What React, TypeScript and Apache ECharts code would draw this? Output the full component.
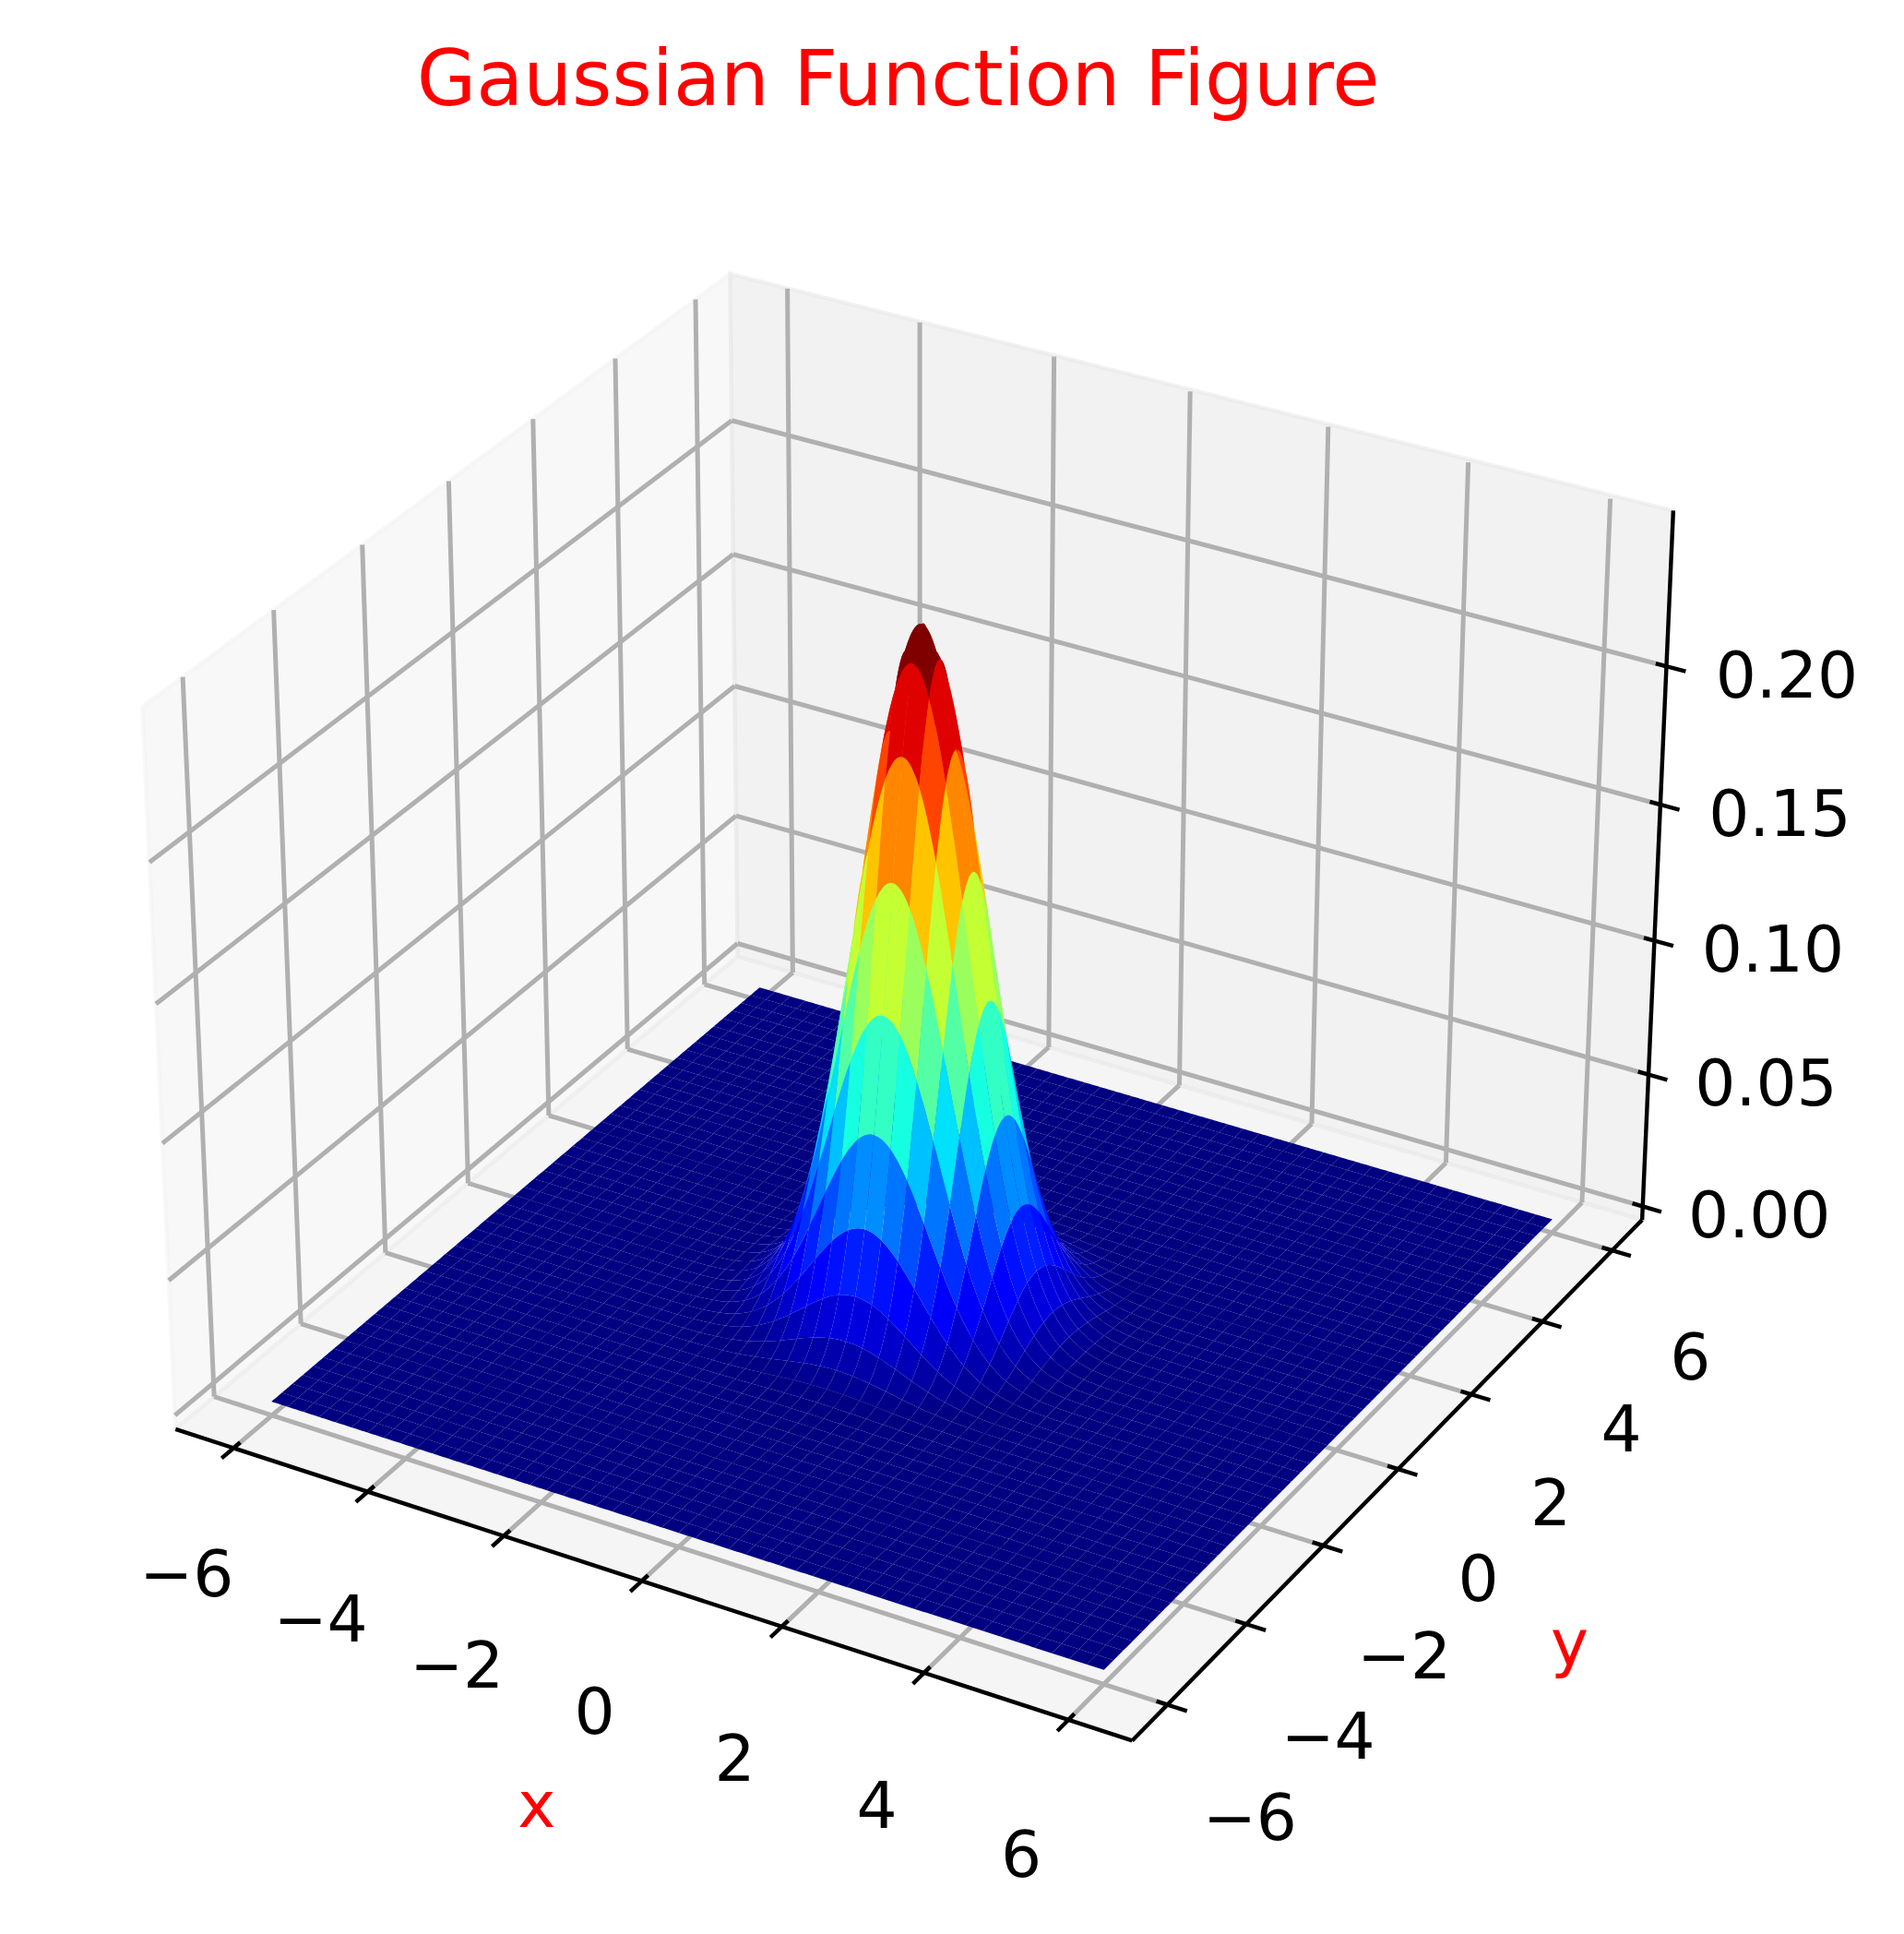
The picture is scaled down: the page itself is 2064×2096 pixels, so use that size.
import React, { useEffect, useRef } from "react";
import * as echarts from "echarts";

// Height read along the surface's profile through the peak, every 0.04 from the centre outwards.
const profileCentre = [0.24868, 0.24837, 0.24744, 0.2459, 0.24376, 0.24103, 0.23774, 0.23391, 0.22956, 0.22473, 0.21946, 0.21378, 0.20772, 0.20132, 0.19464, 0.18771, 0.18058, 0.17328, 0.16586, 0.15837];
const profileShoulder = [0.15083, 0.1433, 0.1358, 0.12837, 0.12105, 0.11385, 0.10682, 0.09997, 0.09333, 0.08691, 0.08073, 0.07481, 0.06914, 0.06375, 0.05863, 0.05378, 0.04921, 0.04492, 0.0409, 0.03715];
const profileSlope = [0.03366, 0.03041, 0.02742, 0.02465, 0.02211, 0.01978, 0.01766, 0.01572, 0.01396, 0.01236, 0.01093, 0.00963, 0.00847, 0.00743, 0.0065, 0.00567, 0.00493, 0.00428, 0.00371, 0.00321];
const profileFoot = [0.00276, 0.00238, 0.00204, 0.00174, 0.00149, 0.00127, 0.00107, 0.00091, 0.00077, 0.00065, 0.00054, 0.00046, 0.00038, 0.00032, 0.00026, 0.00022, 0.00018, 0.00015, 0.00012, 0.0001];
const profileTail = [0.00008, 0.00007, 0.00006, 0.00005, 0.00004, 0.00003, 0.00002, 0.00002, 0.00002, 0.00001, 0.00001];
const profile = [...profileCentre, ...profileShoulder, ...profileSlope, ...profileFoot, ...profileTail];

const cellEdges = [
  -6, -5.76, -5.52, -5.28, -5.04, -4.8, -4.56, -4.32, -4.08, -3.84, -3.6, -3.36, -3.12, -2.88, -2.64, -2.4, -2.16, -1.92, -1.68, -1.44, -1.2, -0.96, -0.72, -0.48, -0.24,
  0, 0.24, 0.48, 0.72, 0.96, 1.2, 1.44, 1.68, 1.92, 2.16, 2.4, 2.64, 2.88, 3.12, 3.36, 3.6, 3.84, 4.08, 4.32, 4.56, 4.8, 5.04, 5.28, 5.52, 5.76, 6,
];
const FINE_PER_CELL = 6;
const CENTRE_CELL = 25;

const xTicks = [-6, -4, -2, 0, 2, 4, 6];
const yTicks = [-6, -4, -2, 0, 2, 4, 6];
const zTicks = [0, 0.05, 0.1, 0.15, 0.2];
const xTickLabels = ["\u22126", "\u22124", "\u22122", "0", "2", "4", "6"];
const yTickLabels = ["\u22126", "\u22124", "\u22122", "0", "2", "4", "6"];
const zTickLabels = ["0.00", "0.05", "0.10", "0.15", "0.20"];

const jetR = [[0, 0], [0.35, 0], [0.66, 1], [0.89, 1], [1, 0.5]];
const jetG = [[0, 0], [0.125, 0], [0.375, 1], [0.64, 1], [0.91, 0], [1, 0]];
const jetB = [[0, 0.5], [0.11, 1], [0.34, 1], [0.65, 0], [1, 0]];

// Camera of the view: elevation 30, azimuth -60, distance 10; box half-sizes and pane limits.
const BOX_XY = 0.5714;
const BOX_Z = 0.4286;
const PANE_XY = 6.875;
const PANE_Z_LOW = -0.00518;
const PANE_Z_HIGH = 0.25386;
const AXIS_Z_TOP = 0.2553;
const SCALE_X = 10399;
const SCALE_Y = 10415;
const CX = 999.3;
const CY = 1055;
const U = [0.866025, 0.5, 0];
const V = [-0.25, 0.433013, 0.866025];
const W = [0.433013, -0.75, 0.5];
const FONT = "DejaVu Sans";
const TICK_FONT = 69.4;
const GRID = "#b0b0b0";
const GRID_LW = 5;
const AXIS_LW = 4.4;

function project(x: number, y: number, z: number) {
  const qx = (x / PANE_XY) * BOX_XY;
  const qy = (y / PANE_XY) * BOX_XY;
  const qz = -BOX_Z + ((z - PANE_Z_LOW) / (PANE_Z_HIGH - PANE_Z_LOW)) * 2 * BOX_Z;
  const d = 10 - (qx * W[0] + qy * W[1] + qz * W[2]);
  const a = (qx * U[0] + qy * U[1]) / d;
  const b = (qx * V[0] + qy * V[1] + qz * V[2]) / d;
  return { px: CX + SCALE_X * a, py: CY - SCALE_Y * b, inv: 1 / d };
}

// i and j count fine steps of 0.04 from the peak.
function heightAt(i: number, j: number) {
  const a = profile[Math.abs(i)];
  const b = profile[Math.abs(j)];
  if (a === undefined || b === undefined) return 0;
  return (a * b) / profile[0];
}

function lerpStops(stops: number[][], t: number) {
  for (let k = 1; k < stops.length; k++) {
    if (t <= stops[k][0]) {
      const [a, av] = stops[k - 1];
      const [b, bv] = stops[k];
      return av + ((t - a) / (b - a)) * (bv - av);
    }
  }
  return stops[stops.length - 1][1];
}

function jet(t: number) {
  const level = Math.min(255, Math.floor(Math.max(0, Math.min(1, t)) * 256)) / 255;
  const c = (s: number[][]) => Math.round(lerpStops(s, level) * 255);
  return `rgb(${c(jetR)},${c(jetG)},${c(jetB)})`;
}

type Tile = { pts: number[][]; mean: number; depth: number };

function buildTiles(): Tile[] {
  const tiles: Tile[] = [];
  const n = FINE_PER_CELL;
  for (let c = 0; c < cellEdges.length - 1; c++) {
    for (let r = 0; r < cellEdges.length - 1; r++) {
      const i0 = (c - CENTRE_CELL) * n;
      const j0 = (r - CENTRE_CELL) * n;
      const perimeter: number[][] = [];
      for (let s = 0; s < n; s++) perimeter.push([i0 + s, j0]);
      for (let s = 0; s < n; s++) perimeter.push([i0 + n, j0 + s]);
      for (let s = 0; s < n; s++) perimeter.push([i0 + n - s, j0 + n]);
      for (let s = 0; s < n; s++) perimeter.push([i0, j0 + n - s]);
      let sumZ = 0;
      let sumD = 0;
      const pts = perimeter.map(([i, j]) => {
        const z = heightAt(i, j);
        const p = project(cellEdges[c] + ((i - i0) / n) * (cellEdges[c + 1] - cellEdges[c]), cellEdges[r] + ((j - j0) / n) * (cellEdges[r + 1] - cellEdges[r]), z);
        sumZ += z;
        sumD += p.inv;
        return [p.px, p.py];
      });
      tiles.push({ pts, mean: sumZ / perimeter.length, depth: sumD / perimeter.length });
    }
  }
  return tiles.sort((a, b) => a.depth - b.depth);
}

function line(a: { px: number; py: number }, b: { px: number; py: number }, stroke: string, lineWidth: number) {
  return {
    type: "line",
    silent: true,
    shape: { x1: a.px, y1: a.py, x2: b.px, y2: b.py },
    style: { stroke, lineWidth, fill: null, lineCap: "butt" },
  };
}

function pane(points: number[][], shade: string) {
  return {
    type: "polygon",
    silent: true,
    shape: { points: points.map(([x, y, z]) => { const p = project(x, y, z); return [p.px, p.py]; }) },
    style: { fill: shade, stroke: shade, lineWidth: AXIS_LW, lineJoin: "miter" },
  };
}

function label(text: string, x: number, y: number, fill = "#000000", fontSize = TICK_FONT) {
  return {
    type: "text",
    silent: true,
    style: { x, y, text, fill, fontSize, fontFamily: FONT, align: "center", verticalAlign: "middle" },
  };
}

function buildFrame() {
  const P = PANE_XY, L = PANE_Z_LOW, H = PANE_Z_HIGH;
  const children: any[] = [
    pane([[-P, -P, L], [-P, P, L], [-P, P, H], [-P, -P, H]], "rgba(242,242,242,0.5)"),
    pane([[-P, P, L], [P, P, L], [P, P, AXIS_Z_TOP], [-P, P, H]], "rgba(230,230,230,0.5)"),
    pane([[-P, -P, L], [P, -P, L], [P, P, L], [-P, P, L]], "rgba(236,236,236,0.5)"),
  ];
  const OUT = 0.27, IN = 0.15;
  xTicks.forEach((t) => {
    children.push(line(project(t, -P, L), project(t, P, L), GRID, GRID_LW));
    children.push(line(project(t, P, L), project(t, P, H), GRID, GRID_LW));
  });
  yTicks.forEach((t) => {
    children.push(line(project(P, t, L), project(-P, t, L), GRID, GRID_LW));
    children.push(line(project(-P, t, L), project(-P, t, H), GRID, GRID_LW));
  });
  zTicks.forEach((t) => {
    children.push(line(project(-P, -P, t), project(-P, P, t), GRID, GRID_LW));
    children.push(line(project(-P, P, t), project(P, P, t), GRID, GRID_LW));
  });
  children.push(line(project(-P, -P, L), project(P, -P, L), "#000000", AXIS_LW));
  children.push(line(project(P, -P, L), project(P, P, L), "#000000", AXIS_LW));
  children.push(line(project(P, P, L), project(P, P, AXIS_Z_TOP), "#000000", AXIS_LW));
  xTicks.forEach((t, i) => {
    children.push(line(project(t, -P + IN, L), project(t, -P - OUT, L), "#000000", AXIS_LW));
    const a = project(t, -P, L);
    children.push(label(xTickLabels[i], a.px - 51, a.py + 141.5 + 0.75 * t));
  });
  yTicks.forEach((t, i) => {
    children.push(line(project(P - IN, t, L), project(P + OUT, t, L), "#000000", AXIS_LW));
    const a = project(P, t, L);
    children.push(label(yTickLabels[i], a.px + 87 - 0.4 * t, a.py + 119.2 - 0.55 * t));
  });
  zTicks.forEach((t, i) => {
    children.push(line(project(P - IN, P, t), project(P + OUT, P, t), "#000000", AXIS_LW));
    const a = project(P, P, t);
    children.push(label(zTickLabels[i], a.px + 126.5 + 20 * t, a.py + 9.5));
  });
  const xl = project(0, -P, L);
  children.push(label("x", xl.px - 114, xl.py + 243, "#ff0000"));
  const yl = project(P, 0, L);
  children.push(label("y", yl.px + 186, yl.py + 189, "#ff0000"));
  return children;
}

export default function App() {
  const ref = useRef<HTMLDivElement>(null);
  useEffect(() => {
    document.body.style.margin = "0";
    const chart = echarts.init(ref.current!, undefined, { renderer: "svg" });
    const tiles = buildTiles();
    const means = tiles.map((t) => t.mean);
    const minZ = Math.min(...means);
    const maxZ = Math.max(...means);
    const frame = buildFrame();
    chart.setOption({
      animation: false,
      backgroundColor: "#ffffff",
      title: {
        text: "Gaussian Function Figure",
        left: 968.5,
        top: 39,
        textAlign: "center",
        textStyle: { color: "#ff0000", fontFamily: FONT, fontSize: 83.3, fontWeight: "normal" },
      },
      series: [
        {
          type: "custom",
          coordinateSystem: "none",
          silent: true,
          z: 1,
          data: [0],
          renderItem: () => ({ type: "group", children: frame }),
        },
        {
          type: "custom",
          coordinateSystem: "none",
          silent: true,
          z: 2,
          progressive: 0,
          data: means,
          renderItem: (params: any) => {
            const t = tiles[params.dataIndex];
            return {
              type: "polygon",
              silent: true,
              shape: { points: t.pts },
              style: { fill: jet((t.mean - minZ) / (maxZ - minZ)) },
            };
          },
        },
      ],
    });
    return () => chart.dispose();
  }, []);
  return <div ref={ref} style={{ position: "absolute", left: 0, top: 0, width: 2064, height: 2096 }} />;
}
